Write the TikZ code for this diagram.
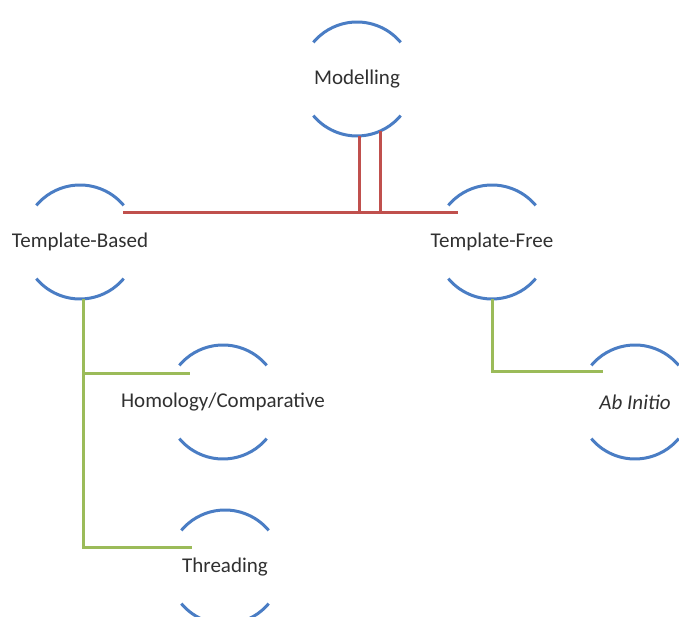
\documentclass[tikz,border=0pt]{standalone}
\usepackage{fontspec}
\setmainfont{Carlito}
\usetikzlibrary{calc}
\definecolor{arcblue}{HTML}{4A7DC4}
\definecolor{linkred}{HTML}{C0504D}
\definecolor{linkgreen}{HTML}{9BBB59}
\definecolor{labelgray}{HTML}{303030}
% the two open arcs around a concept
\newcommand\rings[1]{%
  \draw[ring] ($(#1.center)+(40:57pt)$) arc[start angle=40,end angle=140,radius=57pt];
  \draw[ring] ($(#1.center)+(220:57pt)$) arc[start angle=220,end angle=320,radius=57pt];}
\begin{document}
\begin{tikzpicture}[x=1pt,y=1pt,
  concept/.style={inner sep=0pt, outer sep=0pt, font=\fontsize{21}{25}\selectfont, text=labelgray},
  ring/.style={draw=arcblue, line width=3pt},
  redlink/.style={draw=linkred, line width=3pt},
  greenlink/.style={draw=linkgreen, line width=3pt}]
\useasboundingbox (0,0) rectangle (679,617);
\clip (0,0) rectangle (679,617);

% concepts
\node[concept] (M)  at (357,538) {Modelling};
\node[concept] (TB) at (80,375)  {Template-Based};
\node[concept] (TF) at (492,375) {Template-Free};
\node[concept] (HC) at (223,215) {Homology/Comparative};
\node[concept] (TH) at (225,50)  {Threading};
\node[concept] (AI) at (635,215) {\textit{Ab Initio}};

\rings{M}
\rings{TB}
\rings{TF}
\rings{HC}
\rings{TH}
\rings{AI}

% first level links (two parallel drops sharing one bar)
\draw[redlink] ($(M.center)+(23,-52)$) |- ($(TB.center)+(43,29)$);
\draw[redlink] ($(M.center)+(2,-57)$) |- ($(TF.center)+(-34,29)$);

% second level links
\draw[greenlink] ($(TB.center)+(3,-57)$) |- ($(HC.center)+(-33,28)$);
\draw[greenlink] ($(TB.center)+(3,-57)$) |- ($(TH.center)+(-33,19)$);
\draw[greenlink] ($(TF.center)+(0,-57)$) |- ($(AI.center)+(-32,30)$);
\end{tikzpicture}
\end{document}
